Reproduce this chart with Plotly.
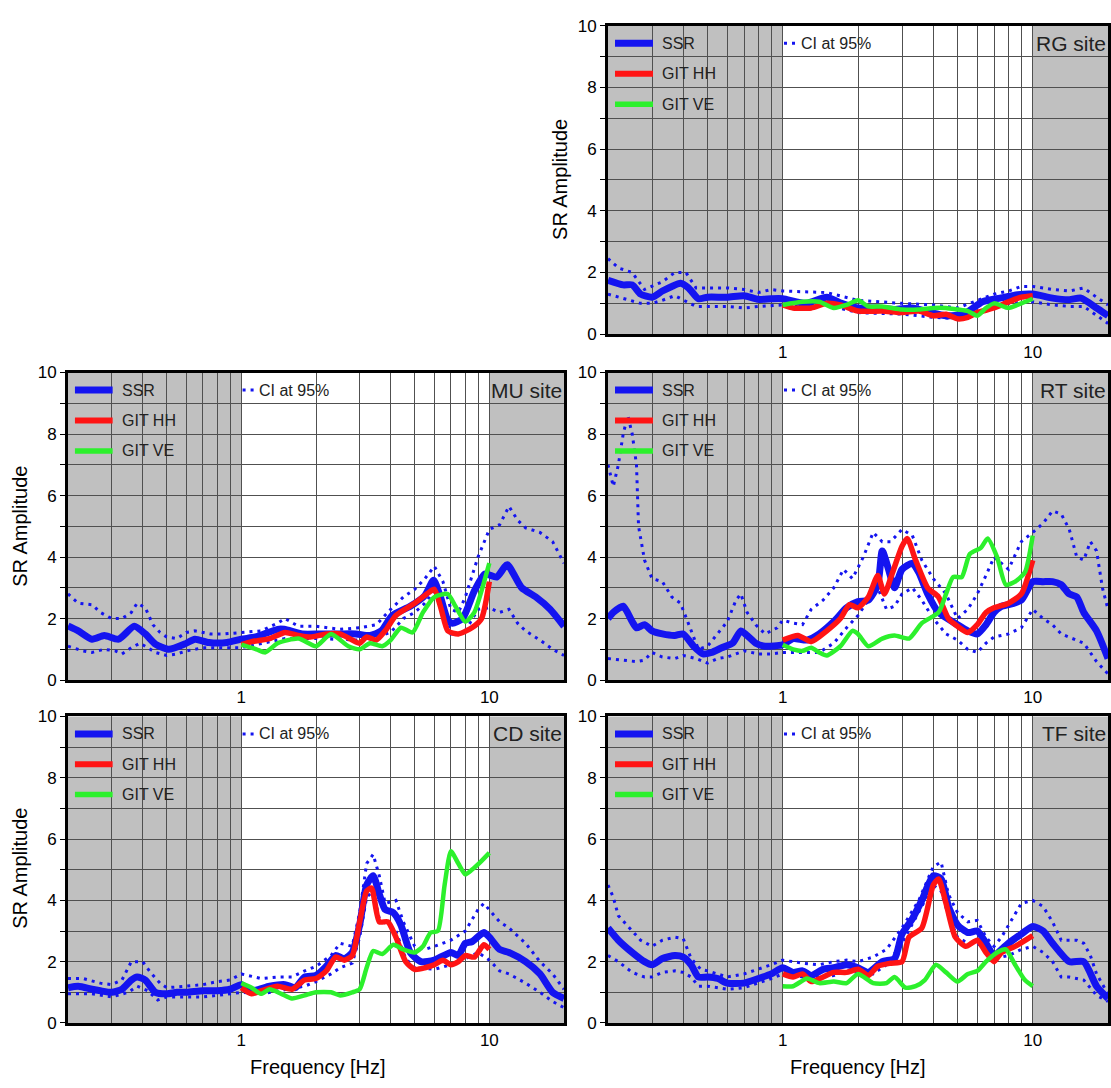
import plotly.graph_objects as go
import math

# ---------------- DATA ----------------
site_names = ["RG site", "MU site", "RT site", "CD site", "TF site"]
legend_labels = ["SSR", "GIT HH", "GIT VE", "CI at 95%"]
x_tick_vals = [1, 10]
y_tick_vals = [0, 2, 4, 6, 8, 10]
shade_bands = [(0.2, 1.0), (10.0, 20.0)]
x_limits = [0.2, 20]
y_limits = [0, 10]

# RG
RG_ssr_f = [0.2, 0.23, 0.25, 0.27, 0.3, 0.33, 0.36, 0.39, 0.42, 0.46, 0.5, 0.6, 0.7, 0.8, 0.9, 1.0, 1.24, 1.5, 1.72, 2.0, 2.4, 2.8, 3.3, 3.9, 4.5, 5.3, 6.3, 7.4, 8.7, 10, 12, 14, 15.6, 18, 20]
RG_ssr = [1.75, 1.6, 1.6, 1.3, 1.2, 1.4, 1.55, 1.65, 1.5, 1.15, 1.2, 1.2, 1.25, 1.13, 1.15, 1.15, 1.0, 1.2, 1.0, 0.85, 0.85, 0.8, 0.85, 0.7, 0.6, 0.65, 1.05, 1.17, 1.28, 1.3, 1.17, 1.12, 1.17, 0.85, 0.6]
RG_up_f = [0.2, 0.22, 0.25, 0.28, 0.33, 0.37, 0.41, 0.45, 0.5, 0.6, 0.7, 0.8, 0.9, 1.0, 1.5, 2.0, 3.0, 4.0, 5.0, 6.0, 7.0, 8.0, 9.0, 10, 12, 14, 16, 18, 20]
RG_up = [2.45, 2.15, 2.0, 1.45, 1.7, 2.0, 2.0, 1.5, 1.5, 1.5, 1.45, 1.35, 1.45, 1.4, 1.35, 1.1, 1.0, 0.95, 0.85, 1.1, 1.3, 1.4, 1.55, 1.55, 1.45, 1.4, 1.5, 1.2, 0.95]
RG_lo_f = [0.2, 0.23, 0.27, 0.3, 0.33, 0.37, 0.4, 0.45, 0.5, 0.6, 0.7, 0.8, 1.0, 1.5, 2.0, 3.0, 4.0, 5.0, 6.0, 7.0, 8.0, 10, 12, 14, 16, 18, 20]
RG_lo = [1.3, 1.15, 1.0, 1.0, 1.1, 1.25, 1.1, 0.9, 0.9, 0.9, 0.85, 0.9, 0.95, 0.95, 0.7, 0.65, 0.55, 0.5, 0.7, 0.9, 1.0, 1.05, 0.95, 0.9, 0.9, 0.6, 0.35]
RG_hh_f = [1.0, 1.1, 1.3, 1.5, 1.7, 2.0, 2.5, 3.0, 3.5, 4.0, 4.5, 5.0, 5.5, 6.0, 7.0, 8.0, 9.0, 10]
RG_hh = [0.95, 0.85, 0.85, 1.0, 0.95, 0.75, 0.75, 0.7, 0.75, 0.6, 0.65, 0.5, 0.55, 0.7, 0.85, 1.05, 1.2, 1.25]
RG_ve_f = [1.0, 1.2, 1.4, 1.6, 1.8, 2.0, 2.2, 2.5, 3.0, 3.5, 4.0, 4.5, 5.0, 5.5, 6.0, 6.5, 7.0, 8.0, 9.0, 10]
RG_ve = [0.95, 1.05, 1.05, 0.85, 0.95, 1.1, 0.9, 0.9, 0.8, 0.8, 0.85, 0.85, 0.8, 0.75, 0.6, 0.85, 1.0, 0.85, 1.0, 1.15]

# MU
MU_ssr_f = [0.2, 0.22, 0.25, 0.28, 0.32, 0.37, 0.41, 0.45, 0.51, 0.59, 0.65, 0.74, 0.875, 1.0, 1.14, 1.4, 1.49, 1.76, 2.08, 2.46, 2.9, 3.3, 3.67, 4.06, 4.8, 5.5, 5.96, 6.35, 6.8, 7.1, 7.8, 8.7, 9.6, 10.7, 11.8, 13.5, 15.4, 17.6, 20]
MU_ssr = [1.76, 1.6, 1.33, 1.45, 1.33, 1.75, 1.5, 1.17, 1.0, 1.17, 1.33, 1.22, 1.22, 1.33, 1.4, 1.65, 1.65, 1.5, 1.5, 1.5, 1.5, 1.45, 1.6, 2.1, 2.4, 2.75, 3.25, 2.7, 1.95, 1.85, 2.0, 2.9, 3.45, 3.35, 3.75, 3.0, 2.7, 2.3, 1.75]
MU_up_f = [0.2, 0.22, 0.25, 0.27, 0.3, 0.33, 0.36, 0.38, 0.41, 0.44, 0.47, 0.5, 0.55, 0.6, 0.65, 0.75, 0.85, 1.0, 1.2, 1.4, 1.5, 1.7, 2.0, 2.5, 3.0, 3.5, 4.0, 4.5, 5.0, 5.5, 6.0, 6.5, 7.0, 7.5, 8.0, 9.0, 10, 11, 12, 13, 14, 16, 18, 20]
MU_up = [2.8, 2.5, 2.45, 2.2, 2.0, 2.0, 2.2, 2.5, 2.35, 1.8, 1.55, 1.4, 1.35, 1.55, 1.6, 1.5, 1.5, 1.55, 1.6, 1.85, 2.0, 1.75, 1.75, 1.65, 1.7, 1.8, 2.3, 2.7, 2.95, 3.3, 3.7, 3.2, 2.3, 2.2, 2.7, 4.0, 4.9, 5.05, 5.65, 5.2, 4.95, 4.8, 4.5, 3.8]
MU_lo_f = [0.2, 0.23, 0.25, 0.28, 0.31, 0.33, 0.36, 0.39, 0.42, 0.45, 0.5, 0.55, 0.6, 0.7, 0.8, 1.0, 1.5, 2.0, 3.0, 3.5, 4.0, 4.5, 5.0, 5.5, 6.0, 6.5, 7.0, 7.5, 8.0, 9.0, 10, 11, 12, 13, 14, 16, 18, 20]
MU_lo = [1.1, 0.95, 0.9, 1.0, 0.95, 0.85, 1.05, 1.2, 1.05, 0.9, 0.8, 0.85, 0.95, 1.05, 1.05, 1.05, 1.35, 1.35, 1.3, 1.4, 1.55, 2.0, 2.2, 2.5, 2.9, 2.4, 1.5, 1.5, 1.6, 2.3, 2.35, 2.2, 2.3, 1.85, 1.6, 1.3, 1.0, 0.8]
MU_hh_f = [1.0, 1.1, 1.3, 1.5, 1.7, 1.9, 2.2, 2.5, 2.8, 3.0, 3.2, 3.5, 3.8, 4.2, 5.0, 5.7, 6.0, 6.4, 6.8, 7.5, 8.5, 9.3, 10]
MU_hh = [1.15, 1.25, 1.35, 1.55, 1.45, 1.4, 1.5, 1.5, 1.3, 1.2, 1.4, 1.3, 1.6, 2.1, 2.5, 2.85, 2.95, 2.3, 1.6, 1.5, 1.7, 2.0, 3.2]
MU_ve_f = [1.0, 1.15, 1.25, 1.4, 1.7, 2.0, 2.3, 2.7, 3.0, 3.3, 3.7, 4.0, 4.4, 4.9, 5.4, 6.0, 6.8, 7.3, 8.0, 8.7, 9.3, 10]
MU_ve = [1.15, 1.0, 0.9, 1.2, 1.35, 1.1, 1.5, 1.1, 1.0, 1.2, 1.1, 1.3, 1.7, 1.55, 2.2, 2.7, 2.8, 2.4, 1.9, 2.2, 2.9, 3.8]

# RT
RT_ssr_f = [0.2, 0.21, 0.23, 0.25, 0.26, 0.28, 0.3, 0.33, 0.37, 0.4, 0.44, 0.48, 0.52, 0.57, 0.63, 0.68, 0.72, 0.78, 0.85, 1.0, 1.1, 1.25, 1.4, 1.6, 1.8, 2.0, 2.2, 2.4, 2.5, 2.65, 2.8, 3.0, 3.3, 3.5, 3.8, 4.2, 5.0, 5.5, 6.0, 6.5, 7.0, 7.5, 8.0, 9.0, 10, 11, 12, 13, 14, 15, 16, 18, 20]
RT_ssr = [2.0, 2.2, 2.4, 1.9, 1.7, 1.8, 1.6, 1.5, 1.45, 1.5, 1.1, 0.85, 0.9, 1.05, 1.2, 1.6, 1.45, 1.2, 1.1, 1.15, 1.35, 1.3, 1.5, 1.9, 2.35, 2.55, 2.6, 3.1, 4.2, 3.6, 3.0, 3.6, 3.8, 3.5, 2.8, 2.2, 1.8, 1.6, 1.5, 1.8, 2.2, 2.4, 2.45, 2.6, 3.2, 3.2, 3.2, 3.1, 2.8, 2.7, 2.2, 1.6, 0.7]
RT_up_f = [0.2, 0.21, 0.22, 0.23, 0.24, 0.25, 0.26, 0.265, 0.28, 0.3, 0.33, 0.36, 0.39, 0.42, 0.46, 0.5, 0.55, 0.6, 0.65, 0.68, 0.72, 0.78, 0.85, 0.95, 1.0, 1.1, 1.2, 1.3, 1.45, 1.6, 1.75, 1.9, 2.1, 2.3, 2.5, 2.7, 3.0, 3.3, 3.6, 4.0, 4.5, 5.0, 5.5, 6.0, 6.5, 7.0, 8.0, 9.0, 10, 11, 12, 13, 14, 15, 16, 17, 18, 19, 20]
RT_up = [7.0, 6.3, 7.0, 8.0, 8.6, 8.0, 7.0, 5.0, 3.9, 3.3, 3.2, 2.7, 2.5, 1.8, 1.0, 1.1, 1.5, 1.9, 2.6, 2.8, 2.2, 1.8, 1.5, 1.7, 1.95, 1.85, 1.8, 2.3, 2.6, 3.0, 3.6, 3.3, 4.0, 4.8, 4.5, 4.5, 4.9, 4.7, 3.9, 3.3, 2.8, 2.0, 2.3, 2.8, 3.4, 4.0, 3.6, 4.5, 4.8, 5.1, 5.5, 5.4, 4.9, 4.0, 3.9, 4.5, 4.2, 3.0, 2.3]
RT_lo_f = [0.2, 0.23, 0.26, 0.28, 0.3, 0.33, 0.37, 0.4, 0.45, 0.5, 0.55, 0.6, 0.65, 0.7, 0.8, 0.9, 1.0, 1.2, 1.4, 1.6, 1.8, 2.0, 2.2, 2.4, 2.6, 2.8, 3.0, 3.3, 3.6, 4.0, 4.5, 5.0, 5.5, 6.0, 6.5, 7.0, 8.0, 9.0, 10, 11, 12, 13, 14, 16, 18, 20]
RT_lo = [0.7, 0.65, 0.6, 0.65, 0.9, 0.75, 0.7, 0.8, 0.7, 0.55, 0.7, 0.75, 0.85, 0.95, 0.85, 0.85, 0.9, 0.9, 0.9, 1.2, 1.7, 2.1, 2.6, 3.0, 2.3, 2.4, 2.8, 3.0, 2.6, 2.0, 1.5, 1.3, 1.0, 0.9, 1.2, 1.4, 1.5, 1.7, 2.3, 2.0, 1.8, 1.5, 1.4, 1.2, 0.6, 0.2]
RT_hh_f = [1.0, 1.15, 1.3, 1.5, 1.7, 1.85, 2.0, 2.2, 2.4, 2.55, 2.75, 3.0, 3.15, 3.4, 3.8, 4.2, 4.6, 5.0, 5.5, 6.0, 6.5, 7.0, 8.0, 9.0, 10]
RT_hh = [1.3, 1.45, 1.25, 1.6, 2.0, 2.45, 2.35, 2.7, 3.4, 2.8, 3.5, 4.35, 4.6, 3.9, 3.0, 2.7, 2.0, 1.75, 1.55, 1.8, 2.2, 2.35, 2.5, 2.8, 3.9]
RT_ve_f = [1.0, 1.1, 1.2, 1.3, 1.4, 1.5, 1.7, 1.9, 2.0, 2.2, 2.5, 2.8, 3.2, 3.6, 4.2, 4.5, 4.8, 5.2, 5.6, 6.2, 6.6, 7.2, 7.8, 8.5, 9.3, 10]
RT_ve = [1.15, 1.0, 0.95, 1.05, 0.9, 0.8, 1.1, 1.6, 1.5, 1.1, 1.35, 1.45, 1.35, 1.85, 2.2, 2.8, 3.35, 3.35, 4.1, 4.3, 4.6, 4.0, 3.1, 3.2, 3.5, 4.7]

# CD
CD_ssr_f = [0.2, 0.22, 0.25, 0.27, 0.3, 0.33, 0.36, 0.38, 0.41, 0.45, 0.5, 0.55, 0.6, 0.7, 0.8, 0.9, 1.0, 1.1, 1.3, 1.5, 1.65, 1.8, 2.0, 2.2, 2.4, 2.6, 2.8, 3.0, 3.2, 3.4, 3.6, 3.8, 4.1, 4.4, 4.8, 5.3, 6.0, 7.0, 7.5, 8.0, 8.5, 9.5, 10, 11, 12, 14, 16, 18, 20]
CD_ssr = [1.15, 1.2, 1.1, 1.05, 1.0, 1.1, 1.4, 1.5, 1.4, 1.0, 0.95, 1.0, 1.0, 1.05, 1.05, 1.1, 1.25, 1.05, 1.2, 1.25, 1.15, 1.5, 1.55, 1.85, 2.2, 2.1, 2.3, 3.2, 4.5, 4.8, 4.2, 3.7, 3.6, 3.2, 2.3, 2.0, 2.05, 2.3, 2.2, 2.6, 2.65, 2.95, 2.8, 2.4, 2.3, 2.0, 1.6, 1.0, 0.8]
CD_up_f = [0.2, 0.23, 0.27, 0.3, 0.33, 0.36, 0.4, 0.43, 0.47, 0.5, 0.6, 0.7, 0.8, 0.9, 1.0, 1.2, 1.4, 1.6, 1.8, 2.0, 2.3, 2.5, 2.8, 3.0, 3.2, 3.4, 3.6, 3.8, 4.2, 4.5, 5.0, 5.5, 6.0, 7.0, 8.0, 9.0, 9.5, 10, 11, 12, 14, 16, 18, 20]
CD_up = [1.45, 1.45, 1.3, 1.25, 1.4, 2.0, 2.0, 1.65, 1.3, 1.15, 1.2, 1.25, 1.35, 1.4, 1.6, 1.45, 1.5, 1.5, 1.7, 1.85, 2.2, 2.6, 2.5, 3.6, 5.2, 5.5, 4.8, 3.9, 4.0, 3.3, 2.5, 2.4, 2.5, 2.7, 3.0, 3.7, 3.9, 3.7, 3.3, 3.1, 2.6, 2.0, 1.6, 1.1]
CD_lo_f = [0.2, 0.25, 0.3, 0.35, 0.38, 0.42, 0.46, 0.5, 0.6, 0.7, 0.8, 0.9, 1.0, 1.2, 1.5, 1.8, 2.0, 2.3, 2.5, 2.8, 3.0, 3.2, 3.4, 3.6, 3.9, 4.2, 4.6, 5.0, 6.0, 7.0, 8.0, 9.0, 10, 11, 12, 14, 16, 18, 20]
CD_lo = [0.95, 0.95, 0.85, 1.0, 1.2, 1.05, 0.75, 0.85, 0.85, 0.85, 0.9, 0.95, 1.0, 0.95, 1.1, 1.2, 1.35, 1.6, 1.8, 1.95, 2.8, 4.1, 4.3, 3.4, 3.2, 3.0, 2.1, 1.8, 1.75, 1.9, 2.1, 2.3, 2.05, 1.7, 1.6, 1.3, 1.0, 0.7, 0.5]
CD_hh_f = [1.0, 1.1, 1.2, 1.4, 1.6, 1.8, 2.0, 2.2, 2.4, 2.6, 2.8, 3.0, 3.2, 3.35, 3.6, 3.9, 4.2, 4.6, 5.0, 5.5, 6.0, 6.5, 7.0, 7.5, 8.0, 8.7, 9.5, 10]
CD_hh = [1.15, 0.95, 1.05, 1.2, 1.1, 1.4, 1.45, 1.7, 2.15, 2.05, 2.2, 3.3, 4.3, 4.4, 3.3, 3.3, 2.8, 2.0, 1.75, 1.8, 1.9, 2.05, 1.9, 2.0, 2.2, 2.15, 2.55, 2.4]
CD_ve_f = [1.0, 1.1, 1.2, 1.3, 1.45, 1.6, 1.8, 2.0, 2.3, 2.5, 2.8, 3.0, 3.2, 3.4, 3.7, 4.1, 4.5, 5.0, 5.4, 5.8, 6.2, 6.6, 7.0, 7.5, 8.0, 8.5, 9.2, 10]
CD_ve = [1.3, 1.15, 0.95, 1.1, 0.95, 0.8, 0.9, 1.0, 1.0, 0.9, 1.0, 1.1, 1.8, 2.35, 2.25, 2.55, 2.4, 2.3, 2.5, 2.95, 3.0, 4.5, 5.6, 5.2, 4.85, 5.0, 5.25, 5.55]

# TF
TF_ssr_f = [0.2, 0.22, 0.25, 0.28, 0.3, 0.33, 0.37, 0.4, 0.43, 0.46, 0.5, 0.55, 0.6, 0.7, 0.8, 0.9, 1.0, 1.1, 1.2, 1.3, 1.45, 1.6, 1.8, 2.0, 2.2, 2.5, 2.8, 3.0, 3.3, 3.6, 4.0, 4.3, 4.6, 5.0, 5.5, 6.0, 6.5, 7.0, 7.5, 8.0, 9.0, 10, 11, 12, 14, 16, 18, 20]
TF_ssr = [3.1, 2.7, 2.3, 2.0, 1.9, 2.1, 2.2, 2.15, 1.9, 1.5, 1.5, 1.45, 1.3, 1.3, 1.45, 1.6, 1.8, 1.65, 1.7, 1.55, 1.75, 1.8, 1.9, 1.8, 1.65, 2.0, 2.1, 2.9, 3.4, 4.0, 4.8, 4.7, 3.8, 3.2, 2.95, 3.0, 2.6, 2.2, 2.4, 2.6, 2.9, 3.15, 3.0, 2.6, 2.0, 2.0, 1.2, 0.8]
TF_up_f = [0.2, 0.21, 0.22, 0.25, 0.27, 0.3, 0.33, 0.37, 0.4, 0.43, 0.47, 0.5, 0.55, 0.6, 0.7, 0.8, 0.9, 1.0, 1.2, 1.4, 1.6, 1.8, 2.0, 2.3, 2.6, 3.0, 3.5, 4.0, 4.3, 4.6, 5.0, 5.5, 6.0, 6.5, 7.0, 7.5, 8.0, 9.0, 10, 11, 12, 13, 14, 15, 16, 17, 18, 20]
TF_up = [4.5, 4.1, 3.5, 3.0, 2.7, 2.5, 2.7, 2.8, 2.75, 2.1, 1.75, 1.7, 1.6, 1.5, 1.6, 1.75, 1.9, 2.05, 1.95, 1.9, 2.0, 2.05, 2.0, 2.15, 2.4, 3.1, 4.0, 5.1, 5.25, 4.2, 3.6, 3.3, 3.35, 2.8, 2.5, 2.8, 3.2, 3.9, 4.0, 3.8, 3.3, 2.7, 2.7, 2.7, 2.6, 2.2, 1.6, 0.95]
TF_lo_f = [0.2, 0.22, 0.25, 0.28, 0.3, 0.33, 0.37, 0.4, 0.43, 0.46, 0.5, 0.55, 0.6, 0.7, 0.8, 0.9, 1.0, 1.2, 1.4, 1.6, 1.8, 2.0, 2.3, 2.6, 3.0, 3.5, 4.0, 4.3, 4.6, 5.0, 5.5, 6.0, 6.5, 7.0, 8.0, 9.0, 10, 11, 12, 13, 14, 16, 18, 20]
TF_lo = [2.2, 2.0, 1.65, 1.5, 1.5, 1.65, 1.7, 1.65, 1.5, 1.2, 1.2, 1.15, 1.1, 1.15, 1.3, 1.45, 1.6, 1.5, 1.5, 1.55, 1.7, 1.6, 1.6, 1.9, 2.6, 3.6, 4.5, 4.3, 3.5, 2.8, 2.6, 2.6, 2.4, 2.1, 2.2, 2.4, 2.5, 2.3, 2.0, 1.5, 1.5, 1.4, 0.9, 0.7]
TF_hh_f = [1.0, 1.1, 1.2, 1.3, 1.45, 1.6, 1.8, 2.0, 2.2, 2.4, 2.7, 3.0, 3.2, 3.6, 4.0, 4.2, 4.5, 4.9, 5.4, 6.0, 6.5, 7.0, 7.5, 8.5, 10]
TF_hh = [1.6, 1.5, 1.6, 1.35, 1.5, 1.65, 1.65, 1.75, 1.55, 1.85, 1.95, 2.0, 2.8, 3.1, 4.5, 4.7, 3.9, 2.8, 2.5, 2.7, 2.3, 2.0, 2.3, 2.5, 2.85]
TF_ve_f = [1.0, 1.1, 1.25, 1.4, 1.6, 1.8, 2.0, 2.3, 2.6, 2.8, 3.1, 3.4, 3.7, 4.1, 4.5, 5.0, 5.5, 6.0, 6.5, 7.2, 7.8, 8.5, 9.3, 10]
TF_ve = [1.2, 1.2, 1.45, 1.3, 1.35, 1.3, 1.6, 1.3, 1.3, 1.5, 1.15, 1.2, 1.4, 1.9, 1.65, 1.35, 1.6, 1.7, 2.0, 2.3, 2.4, 1.9, 1.4, 1.2]

panels = [
    (RG_ssr_f, RG_ssr, RG_up_f, RG_up, RG_lo_f, RG_lo, RG_hh_f, RG_hh, RG_ve_f, RG_ve),
    (MU_ssr_f, MU_ssr, MU_up_f, MU_up, MU_lo_f, MU_lo, MU_hh_f, MU_hh, MU_ve_f, MU_ve),
    (RT_ssr_f, RT_ssr, RT_up_f, RT_up, RT_lo_f, RT_lo, RT_hh_f, RT_hh, RT_ve_f, RT_ve),
    (CD_ssr_f, CD_ssr, CD_up_f, CD_up, CD_lo_f, CD_lo, CD_hh_f, CD_hh, CD_ve_f, CD_ve),
    (TF_ssr_f, TF_ssr, TF_up_f, TF_up, TF_lo_f, TF_lo, TF_hh_f, TF_hh, TF_ve_f, TF_ve),
]

# ---------------- STYLE / LAYOUT ----------------
W, H = 1111, 1088
FONT = "Liberation Sans, Arial, sans-serif"
BLUE = "#1414f0"
RED = "#ff1414"
GREEN = "#2cf02c"
SHADE = "#c0c0c0"
GRID = "#505050"

col_x = {"L": (68, 564), "R": (608, 1108)}
row_y = {1: (17, 331), 2: (370, 683), 3: (720, 1032)}
placement = [("R", 1), ("L", 2), ("R", 2), ("L", 3), ("R", 3)]

fig = go.Figure()

grid_x = [m * 10 ** e for e in (-1, 0, 1) for m in range(1, 10) if 0.2 <= m * 10 ** e <= 20]
grid_x_text = [("1" if v == 1 else "10" if v == 10 else "") for v in grid_x]
grid_y = list(range(0, 11))
grid_y_text = [str(v) if v in y_tick_vals else "" for v in grid_y]

layout = dict(width=W, height=H, margin=dict(l=0, r=0, t=0, b=0),
              paper_bgcolor="white", plot_bgcolor="white", showlegend=False,
              font=dict(family=FONT, color="black"))
shapes = []
annotations = []

for i, (col, row) in enumerate(placement):
    n = i + 1
    xa = "x" if n == 1 else f"x{n}"
    ya = "y" if n == 1 else f"y{n}"
    xkey = "xaxis" if n == 1 else f"xaxis{n}"
    ykey = "yaxis" if n == 1 else f"yaxis{n}"
    x0p, x1p = col_x[col]
    y0p, y1p = row_y[row]
    layout[xkey] = dict(
        type="log", range=[math.log10(x_limits[0]), math.log10(x_limits[1])],
        domain=[x0p / W, x1p / W], anchor=ya,
        tickmode="array", tickvals=grid_x, ticktext=grid_x_text,
        showgrid=True, gridcolor=GRID, gridwidth=1, zeroline=False,
        showline=True, linecolor="black", linewidth=3, mirror=True,
        ticks="", tickfont=dict(size=17, family=FONT, color="black"),
    )
    layout[ykey] = dict(
        range=y_limits, domain=[1 - y1p / H, 1 - y0p / H], anchor=xa,
        tickmode="array", tickvals=grid_y, ticktext=grid_y_text,
        showgrid=True, gridcolor=GRID, gridwidth=1, zeroline=False,
        showline=True, linecolor="black", linewidth=3, mirror=True,
        ticks="outside", ticklen=5, tickcolor="black",
        tickfont=dict(size=17, family=FONT, color="black"),
    )
    for b0, b1 in shade_bands:
        shapes.append(dict(type="rect", xref=xa, yref=f"{ya} domain", x0=b0, x1=b1, y0=0, y1=1,
                           fillcolor=SHADE, line=dict(width=0), layer="below"))

    (sf, sv, uf, uv, lf, lv, hf, hv, vf, vv) = panels[i]
    dot = dict(color=BLUE, width=3, dash="3px,5px")
    fig.add_trace(go.Scatter(x=uf, y=uv, mode="lines", line=dot, xaxis=xa, yaxis=ya, name="CI at 95%"))
    fig.add_trace(go.Scatter(x=lf, y=lv, mode="lines", line=dot, xaxis=xa, yaxis=ya, name="CI at 95%"))
    fig.add_trace(go.Scatter(x=sf, y=sv, mode="lines", line=dict(color=BLUE, width=7, shape="spline", smoothing=0.6),
                             xaxis=xa, yaxis=ya, name="SSR"))
    fig.add_trace(go.Scatter(x=hf, y=hv, mode="lines", line=dict(color=RED, width=5.5, shape="spline", smoothing=0.6),
                             xaxis=xa, yaxis=ya, name="GIT HH"))
    fig.add_trace(go.Scatter(x=vf, y=vv, mode="lines", line=dict(color=GREEN, width=4.5, shape="spline", smoothing=0.6),
                             xaxis=xa, yaxis=ya, name="GIT VE"))

    # in-panel legend
    xr, yr = f"{xa} domain", f"{ya} domain"
    leg_y = [0.943, 0.844, 0.745]
    leg_col = [BLUE, RED, GREEN]
    leg_w = [7, 6, 5.5]
    for k in range(3):
        shapes.append(dict(type="line", xref=xr, yref=yr, x0=0.014, x1=0.090, y0=leg_y[k], y1=leg_y[k],
                           line=dict(color=leg_col[k], width=leg_w[k])))
        annotations.append(dict(xref=xr, yref=yr, x=0.104, y=leg_y[k], text=legend_labels[k], showarrow=False,
                                xanchor="left", yanchor="middle", font=dict(size=16, family=FONT, color="#222")))
    shapes.append(dict(type="line", xref=xr, yref=yr, x0=0.352, x1=0.378, y0=leg_y[0], y1=leg_y[0],
                       line=dict(color=BLUE, width=3, dash="3px,5px")))
    annotations.append(dict(xref=xr, yref=yr, x=0.382, y=leg_y[0], text=legend_labels[3], showarrow=False,
                            xanchor="left", yanchor="middle", font=dict(size=16, family=FONT, color="#222")))
    annotations.append(dict(xref=xr, yref=yr, x=1.0, y=leg_y[0], text=site_names[i], showarrow=False,
                            xanchor="right", yanchor="middle", font=dict(size=21, family=FONT, color="#222")))

# axis titles
for (xp, yp) in [(560, 174), (20, 527), (20, 875)]:
    annotations.append(dict(xref="paper", yref="paper", x=xp / W, y=1 - yp / H, text="SR Amplitude",
                            textangle=-90, showarrow=False, xanchor="center", yanchor="middle",
                            font=dict(size=20, family=FONT, color="black")))
for xp in (318, 858):
    annotations.append(dict(xref="paper", yref="paper", x=xp / W, y=1 - 1077 / H, text="Frequency [Hz]",
                            showarrow=False, xanchor="center", yanchor="middle",
                            font=dict(size=20, family=FONT, color="black")))

layout["shapes"] = shapes
layout["annotations"] = annotations
fig.update_layout(**layout)
fig.write_html("out.html", config={"displayModeBar": False},
               post_script="document.body.style.margin='0';document.body.style.overflow='hidden';")
